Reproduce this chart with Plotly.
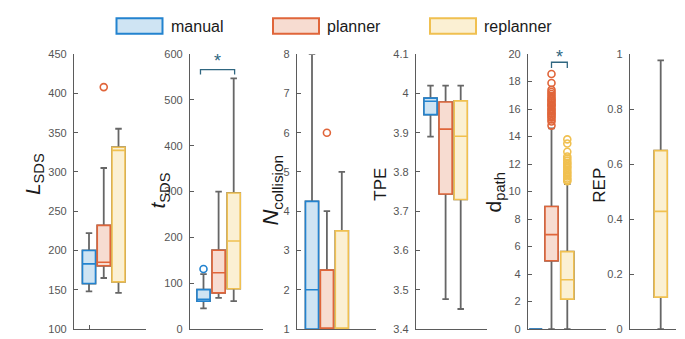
import plotly.graph_objects as go

# ---------------- data ----------------
GROUPS = ["manual", "planner", "replanner"]
EDGE = ["#2383cf", "#e0653a", "#f0c050"]
FILL = ["#cfe4f3", "#f7dcd1", "#fbf0d3"]

# five-number summaries per group: [lower whisker, q1, median, q3, upper whisker]
L_SDS = [[148, 158, 183, 200, 222], [165, 180.5, 185, 232, 305], [146, 160, 327.5, 331.5, 355]]
L_SDS_OUT = [[], [408], []]

T_SDS = [[45, 61, 65, 86, 120], [68, 79, 123, 172, 300], [61, 88, 192, 297, 547]]
T_SDS_OUT = [[131], [], []]

N_COLL = [[1, 1, 2, 4.25, 8], [1, 1, 1, 2.5, 4], [1, 1, 1, 3.5, 5]]
N_COLL_OUT = [[], [6], []]

TPE = [[3.89, 3.946, 3.98, 3.988, 4.02], [3.476, 3.744, 3.909, 3.978, 4.02],
       [3.451, 3.73, 3.891, 3.981, 4.02]]
TPE_OUT = [[], [], []]

D_PATH = [[0, 0, 0, 0, 0], [0, 4.97, 6.87, 8.91, 14.6], [0, 2.18, 3.59, 5.63, 10.55]]
D_PATH_OUT = [[],
              [14.8, 15.1, 15.25, 15.4, 15.5, 15.65, 15.7, 15.85, 15.95, 16.05, 16.2, 16.3,
               16.35, 16.5, 16.6, 16.7, 16.8, 16.95, 17.1, 17.25, 17.4, 17.9, 18.55],
              [10.75, 10.85, 10.95, 11.1, 11.2, 11.35, 11.45, 11.6, 11.75, 11.85, 12.0, 12.1,
               12.25, 12.4, 12.55, 12.9, 13.5, 13.8]]

REP = [[0, 0, 0, 0, 0], [0, 0, 0, 0, 0], [0, 0.116, 0.428, 0.649, 0.977]]
REP_OUT = [[], [], []]

METRICS = [L_SDS, T_SDS, N_COLL, TPE, D_PATH, REP]
OUTLIERS = [L_SDS_OUT, T_SDS_OUT, N_COLL_OUT, TPE_OUT, D_PATH_OUT, REP_OUT]

Y_RANGES = [[100, 450], [0, 600], [1, 8], [3.4, 4.1], [0, 20], [0, 1]]
Y_TICKS = [[100, 150, 200, 250, 300, 350, 400, 450],
           [0, 100, 200, 300, 400, 500, 600],
           [1, 2, 3, 4, 5, 6, 7, 8],
           [3.4, 3.5, 3.6, 3.7, 3.8, 3.9, 4.0, 4.1],
           [0, 2, 4, 6, 8, 10, 12, 14, 16, 18, 20],
           [0, 0.2, 0.4, 0.6, 0.8, 1]]
Y_TICKTEXT = [None, None, None,
              ["3.4", "3.5", "3.6", "3.7", "3.8", "3.9", "4", "4.1"],
              None,
              ["0", "0.2", "0.4", "0.6", "0.8", "1"]]
Y_TITLES = ["<i>L</i><sub>SDS</sub>", "<i>t</i><sub>SDS</sub>", "<i>N</i><sub>collision</sub>",
            "TPE", "d<sub>path</sub>", "REP"]

# ---------------- layout geometry (pixels) ----------------
W, H = 685, 339
# (left px, right px, px of first box centre, px between boxes)
PANELS = [(66, 138, 81, 14.75), (182, 255, 195.5, 15.1), (289, 368, 304, 14.9),
          (408, 479, 422.5, 15.1), (520, 598, 527.7, 15.8), (622, 668, 622.7, 15.0)]
# outline width of boxes collapsed to zero height, per panel (hidden in the REP panel)
ZERO_BOX_LINE = [1.6, 1.6, 1.6, 1.6, 1.6, 0]
Y_TOP_PX, Y_BOT_PX = 41.6, 326.6
TITLE_POS = [(26, 166, 21), (151, 183, 21), (264, 183, 22), (373, 177, 17), (487, 185, 21), (592, 178, 17)]

AXIS_COLOR = "#5b5b5b"
WHISKER = "#666666"
BOX_W_PX = 13.0

fig = go.Figure()

for p, (stats, outs) in enumerate(zip(METRICS, OUTLIERS)):
    k = "" if p == 0 else str(p + 1)
    xa, ya = "x" + k, "y" + k
    left, right, c0, sp = PANELS[p]
    bw = BOX_W_PX / sp
    for g, (s, o) in enumerate(zip(stats, outs)):
        pos = g + 1
        lo, q1, med, q3, hi = s
        flat = (hi == lo)
        lw = ZERO_BOX_LINE[p] if flat else 1.6
        # whiskers (gray)
        fig.add_trace(go.Box(x=[pos], q1=[q1], median=[med], q3=[q3], lowerfence=[lo],
                             upperfence=[hi], width=bw, whiskerwidth=0.5,
                             line=dict(color=WHISKER, width=1.8 if not flat else lw),
                             fillcolor="rgba(0,0,0,0)",
                             boxpoints=False, xaxis=xa, yaxis=ya, showlegend=False,
                             hoverinfo="skip"))
        # coloured box
        fig.add_trace(go.Box(x=[pos], q1=[q1], median=[med], q3=[q3], lowerfence=[q1],
                             upperfence=[q3], width=bw, whiskerwidth=0,
                             line=dict(color=EDGE[g], width=lw), fillcolor=FILL[g],
                             boxpoints=False, xaxis=xa, yaxis=ya, showlegend=False,
                             name=GROUPS[g]))
        if o:
            fig.add_trace(go.Scatter(x=[pos] * len(o), y=o, mode="markers",
                                     marker=dict(symbol="circle-open", size=7,
                                                 line=dict(color=EDGE[g], width=1.6),
                                                 color=EDGE[g]),
                                     xaxis=xa, yaxis=ya, showlegend=False, cliponaxis=False))

layout = dict(width=W, height=H, margin=dict(l=0, r=0, t=0, b=0),
              paper_bgcolor="white", plot_bgcolor="white", showlegend=False,
              boxmode="overlay", font=dict(family="Liberation Sans, Arial, sans-serif"))
ydom = [1 - Y_BOT_PX / H, 1 - Y_TOP_PX / H]
for p in range(6):
    k = "" if p == 0 else str(p + 1)
    left, right, c0, sp = PANELS[p]
    xr = [1 - (c0 - left) / sp, 1 + (right - c0) / sp]
    layout["xaxis" + k] = dict(domain=[left / W, right / W], range=xr, showline=True,
                               linecolor=AXIS_COLOR, linewidth=1.3, showgrid=False,
                               zeroline=False, showticklabels=False,
                               ticks="inside" if p == 0 else "", tickvals=[1] if p == 0 else [],
                               ticklen=4, tickcolor=AXIS_COLOR, tickwidth=1.3,
                               anchor="y" + k, fixedrange=True, layer="above traces")
    yd = dict(domain=ydom, range=Y_RANGES[p], tickvals=Y_TICKS[p], showline=True,
              linecolor=AXIS_COLOR, linewidth=1.3, showgrid=False, zeroline=False,
              ticks="inside", ticklen=4, tickcolor=AXIS_COLOR, tickwidth=1.3,
              tickfont=dict(size=11, color="#555555"), anchor="x" + k, fixedrange=True,
              ticklabelstandoff=4, layer="above traces")
    if Y_TICKTEXT[p] is not None:
        yd["ticktext"] = Y_TICKTEXT[p]
    layout["yaxis" + k] = yd
fig.update_layout(**layout)

# y-axis titles
for p, t in enumerate(Y_TITLES):
    x, y, fs = TITLE_POS[p]
    fig.add_annotation(text=t, x=x / W, y=1 - y / H, xref="paper", yref="paper",
                       textangle=-90, showarrow=False, xanchor="center", yanchor="middle",
                       font=dict(size=fs, color="#1a1a1a"))

# significance brackets
BR_COLOR = "#2f6680"
BRACKETS = [(1, 0.8, 3.06, 566, 555.5, 586), (4, 2.0, 3.0, 19.41, 18.99, 19.8)]
for p, xa0, xa1, ytop, yend, ystar in BRACKETS:
    k = "" if p == 0 else str(p + 1)
    fig.add_shape(type="path",
                  path=f"M {xa0},{yend} L {xa0},{ytop} L {xa1},{ytop} L {xa1},{yend}",
                  xref="x" + k, yref="y" + k, line=dict(color=BR_COLOR, width=1.3))
    fig.add_annotation(text="*", x=(xa0 + xa1) / 2, y=ystar, xref="x" + k, yref="y" + k,
                       showarrow=False, font=dict(size=18, color=BR_COLOR),
                       yanchor="middle", xanchor="center")

# legend (custom, boxes + labels)
LEG_X = [108.5, 265, 422]
for g, name in enumerate(GROUPS):
    x0 = LEG_X[g]
    fig.add_shape(type="rect", xref="paper", yref="paper",
                  x0=x0 / W, x1=(x0 + 46) / W, y0=1 - 20.5 / H, y1=1 - 4.5 / H,
                  fillcolor=FILL[g], line=dict(color=EDGE[g], width=2))
    fig.add_annotation(text=name, x=(x0 + 52) / W, y=1 - 12.5 / H, xref="paper", yref="paper",
                       showarrow=False, xanchor="left", yanchor="middle",
                       font=dict(size=16, color="#1a1a1a"))

fig.write_html("out.html")
